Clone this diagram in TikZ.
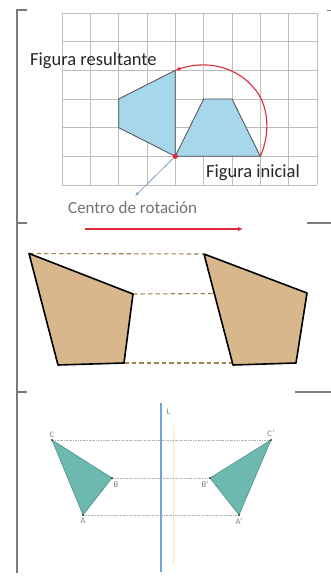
\documentclass[tikz,border=0pt]{standalone}
\usepackage{fontspec}
\setmainfont{Carlito}
\usetikzlibrary{arrows.meta}
\definecolor{gridc}{HTML}{BDBDBD}
\definecolor{bluefill}{HTML}{A6D7EA}
\definecolor{redc}{HTML}{E0283A}
\definecolor{arrowblue}{HTML}{7FA6CC}
\definecolor{tan}{HTML}{D9B78C}
\definecolor{dashc}{HTML}{9C8450}
\definecolor{teal}{HTML}{6DB9AF}
\definecolor{tealdark}{HTML}{4F8F88}
\definecolor{axisc}{HTML}{6FA8D8}
\definecolor{framec}{HTML}{7A7A7A}
\tikzset{
  frameline/.style={framec, line width=1.2pt},
  gridline/.style={gridc, line width=0.6pt},
  bluepoly/.style={fill=bluefill, draw=black!70, line width=0.8pt, line join=round},
  tanpoly/.style={fill=tan, draw=black, line width=1.6pt, line join=round},
  tandash/.style={dashc, line width=1.1pt, dash pattern=on 4.5pt off 3pt},
  tealpoly/.style={fill=teal, draw=tealdark, line width=0.6pt, line join=round},
  dotline/.style={black!30, line width=0.5pt, dash pattern=on 2pt off 1pt on 0.6pt off 1pt},
  vdot/.style={circle, fill=black!75, inner sep=0pt, minimum size=2.4pt},
  ptlabel/.style={font=\fontsize{8.5}{9}\selectfont, text=black!50, inner sep=0.5pt},
  biglabel/.style={font=\fontsize{18.5}{20}\selectfont, text=black!85, inner sep=0pt, anchor=base west},
}
\begin{document}
\begin{tikzpicture}[x=1pt,y=-1pt]
\useasboundingbox (0,0) rectangle (331,578);
\fill[white] (0,0) rectangle (331,578);

% frame marks
\draw[frameline] (27,10) -- (17,10) -- (17,573);
\draw[frameline] (17,223) -- (27,223);
\draw[frameline] (17,392) -- (27,392);
\draw[frameline] (307,223) -- (331,223);
\draw[frameline] (295,392) -- (331,392);
\draw[black!50, line width=0.8pt] (327,10) -- (331,10);

% grid
\foreach \i in {0,...,9} \draw[gridline] (62+28.333*\i,13) -- (62+28.333*\i,185);
\foreach \j in {0,...,6} \draw[gridline] (62,13+28.667*\j) -- (317,13+28.667*\j);

% grid points
\coordinate (O) at (175.3,156.3);
\coordinate (I1) at (203.7,99);
\coordinate (I2) at (232,99);
\coordinate (I3) at (260.3,156.3);
\coordinate (R1) at (175.3,70.3);
\coordinate (R2) at (118.7,99);
\coordinate (R3) at (118.7,127.7);

\filldraw[bluepoly] (O) -- (I1) -- (I2) -- (I3) -- cycle;
\filldraw[bluepoly] (O) -- (R1) -- (R2) -- (R3) -- cycle;

\coordinate (arcmid) at (253,87);
\draw[redc, line width=1.1pt, -{Latex[length=5pt,width=4.5pt]}]
  (I3) .. controls (270,135) and (270,105) .. (arcmid)
       .. controls (235,66) and (205,60) .. (R1);

\coordinate (ctip) at (135,196);
\draw[arrowblue, line width=0.8pt, -{Latex[length=4pt,width=3.5pt]}] (O) -- (ctip);
\fill[redc] (O) circle (2.6pt);

\node[biglabel] (tres) at (30,66) {Figura resultante};
\node[biglabel] (tini) at (206,177) {Figura inicial};
\node[biglabel, text=black!55, font=\fontsize{17}{19}\selectfont] (tcen) at (68,213) {Centro de rotación};

\coordinate (ra) at (85,229);
\coordinate (rb) at (243,229);
\draw[redc, line width=1.1pt, -{Latex[length=5pt,width=4.5pt]}] (ra) -- (rb);

% translation
\coordinate (a1) at (29,253.5);
\coordinate (a2) at (133,294);
\coordinate (a3) at (124,363);
\coordinate (a4) at (58,365);
\coordinate (b1) at (204,254);
\coordinate (b2) at (307,293);
\coordinate (b3) at (296,363);
\coordinate (b4) at (233,365);
\draw[tandash] (a1) -- (b1);
\draw[tandash] (a2) -- (b2);
\draw[tandash] (a3) -- (b3);
\filldraw[tanpoly] (a1) -- (a2) -- (a3) -- (a4) -- cycle;
\filldraw[tanpoly] (b1) -- (b2) -- (b3) -- (b4) -- cycle;

% reflection
\coordinate (Ltop) at (161,403);
\coordinate (Lbot) at (161,572);
\draw[orange!40, line width=0.5pt, opacity=0.5] (173,425) -- (173,565);
\node[ptlabel, anchor=west] (Llab) at (166,412) {L};

\coordinate (C) at (52,440);
\coordinate (B) at (112,478);
\coordinate (A) at (83,515);
\coordinate (C') at (271,440);
\coordinate (B') at (210,478);
\coordinate (A') at (239,515);
\draw[dotline] (C) -- (C');
\draw[dotline] (B) -- (B');
\draw[dotline] (A) -- (A');
\draw[axisc, line width=1.4pt] (Ltop) -- (Lbot);
\filldraw[tealpoly] (C) -- (B) -- (A) -- cycle;
\filldraw[tealpoly] (C') -- (B') -- (A') -- cycle;
\foreach \p in {C,B,A,C',B',A'} \node[vdot] at (\p) {};
\node[ptlabel, anchor=south] (lC) at ([yshift=2pt]C) {C};
\node[ptlabel, anchor=north west] (lB) at ([shift={(1pt,-3pt)}]B) {B};
\node[ptlabel, anchor=north] (lA) at ([yshift=-2.5pt]A) {A};
\node[ptlabel, anchor=south] (lC') at ([yshift=2.5pt]C') {C'};
\node[ptlabel, anchor=north east] (lB') at ([shift={(-1pt,-3pt)}]B') {B'};
\node[ptlabel, anchor=north] (lA') at ([yshift=-2.5pt]A') {A'};
\end{tikzpicture}
\end{document}
